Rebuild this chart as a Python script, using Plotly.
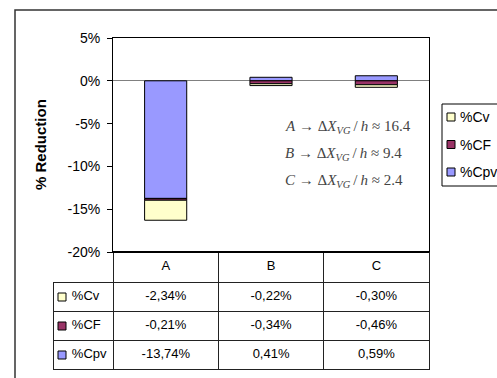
import plotly.graph_objects as go

# ---- data ----
categories = ["A", "B", "C"]
series_names = ["%Cv", "%CF", "%Cpv"]
cv = [-2.34, -0.22, -0.30]
cf = [-0.21, -0.34, -0.46]
cpv = [-13.74, 0.41, 0.59]
y_tickvals = [5, 0, -5, -10, -15, -20]
y_ticktext = ["5%", "0%", "-5%", "-10%", "-15%", "-20%"]
spacing_labels = ["16.4", "9.4", "2.4"]

colors = {"%Cv": "#FFFFCC", "%CF": "#993366", "%Cpv": "#9999FF"}
FONT = "Liberation Sans, Arial, sans-serif"

W, H = 497, 378
def px(x):
    return x / W
def py(y):
    return 1 - y / H

fig = go.Figure()

# stacking order from zero outward: Cpv, CF, Cv
for name, vals in [("%Cpv", cpv), ("%CF", cf), ("%Cv", cv)]:
    fig.add_trace(go.Bar(
        x=categories, y=vals, name=name, width=0.4, showlegend=False,
        marker=dict(color=colors[name], line=dict(color="black", width=1)),
    ))

def fmt(v):
    return f"{v:.2f}%".replace(".", ",")

nb = "\u00a0"
row_labels = [nb * 3 + n for n in series_names]
table_rows = [cv, cf, cpv]
col_values = [row_labels] + [[fmt(r[i]) for r in table_rows] for i in range(len(categories))]

fig.add_trace(go.Table(
    domain=dict(x=[px(53), px(429)], y=[0, py(252)]),
    columnwidth=[60, 105, 105, 105],
    header=dict(
        values=[""] + categories,
        height=30,
        align="center",
        fill=dict(color=["rgba(0,0,0,0)", "white", "white", "white"]),
        line=dict(color=["rgba(0,0,0,0)", "#222", "#222", "#222"], width=1),
        font=dict(family=FONT, size=13, color="black"),
    ),
    cells=dict(
        values=col_values,
        height=29,
        align=["left", "center", "center", "center"],
        fill=dict(color="white"),
        line=dict(color="#222", width=1),
        font=dict(family=FONT, size=13, color="black"),
    ),
))

shapes = []
annotations = []

# legend-key squares in the table's row labels
for i, name in enumerate(series_names):
    yc = 297 + i * 29
    shapes.append(dict(type="rect", xref="paper", yref="paper",
                       x0=px(58), x1=px(66), y0=py(yc + 4), y1=py(yc - 4),
                       fillcolor=colors[name], line=dict(color="black", width=1),
                       layer="above"))

# outer frame
shapes.append(dict(type="rect", xref="paper", yref="paper",
                   x0=px(15), x1=1.1, y0=-0.1, y1=py(10),
                   line=dict(color="#333", width=1.5), layer="below"))
# thicker bottom line of plot area
shapes.append(dict(type="line", xref="paper", yref="paper",
                   x0=px(113), x1=px(429), y0=py(252), y1=py(252),
                   line=dict(color="black", width=2)))

# manual legend (box clipped at right edge like the reference)
shapes.append(dict(type="rect", xref="paper", yref="paper",
                   x0=px(442), x1=px(520), y0=py(186), y1=py(104),
                   fillcolor="white", line=dict(color="black", width=1)))
for i, name in enumerate(series_names):
    yc = 117 + i * 27.5
    shapes.append(dict(type="rect", xref="paper", yref="paper",
                       x0=px(447), x1=px(455), y0=py(yc + 4), y1=py(yc - 4),
                       fillcolor=colors[name], line=dict(color="black", width=1)))
    annotations.append(dict(text=name, xref="paper", yref="paper",
                            x=px(458), y=py(yc), xanchor="left", yanchor="middle",
                            showarrow=False,
                            font=dict(family=FONT, size=14, color="black")))

annotations.append(dict(text="<b>% Reduction</b>", xref="paper", yref="paper",
                        x=px(40), y=py(145), xanchor="center", yanchor="middle",
                        textangle=-90, showarrow=False,
                        font=dict(family=FONT, size=15, color="black")))
for i, (c, s) in enumerate(zip(categories, spacing_labels)):
    annotations.append(dict(
        text=f"<i>{c}</i> → Δ<i>X</i><sub><i>VG</i></sub>\u2009/\u2009<i>h</i> ≈ {s}",
        xref="paper", yref="paper", x=px(283), y=py(127 + i * 27),
        xanchor="left", yanchor="middle", showarrow=False,
        font=dict(family="Liberation Serif, Times New Roman, serif", size=15, color="#444")))

fig.update_layout(
    width=W, height=H,
    margin=dict(l=0, r=0, t=0, b=0),
    paper_bgcolor="white", plot_bgcolor="white",
    barmode="relative",
    showlegend=False,
    xaxis=dict(domain=[px(113), px(429)], range=[-0.5, 2.5],
               showticklabels=False, ticks="", showgrid=False,
               showline=True, mirror=True, linecolor="black", linewidth=1,
               zeroline=False, automargin=False),
    yaxis=dict(domain=[py(252), py(38)], range=[-20, 5],
               tickvals=y_tickvals, ticktext=y_ticktext,
               ticks="outside", ticklen=5, tickcolor="black",
               ticklabelstandoff=4,
               showgrid=False, showline=True, mirror=True,
               linecolor="black", linewidth=1,
               zeroline=True, zerolinecolor="#808080", zerolinewidth=1,
               tickfont=dict(family=FONT, size=14, color="black"),
               automargin=False),
    shapes=shapes,
    annotations=annotations,
)

fig.write_html("out.html", config={"displayModeBar": False},
               post_script="document.body.style.margin='0';document.body.style.overflow='hidden';")
